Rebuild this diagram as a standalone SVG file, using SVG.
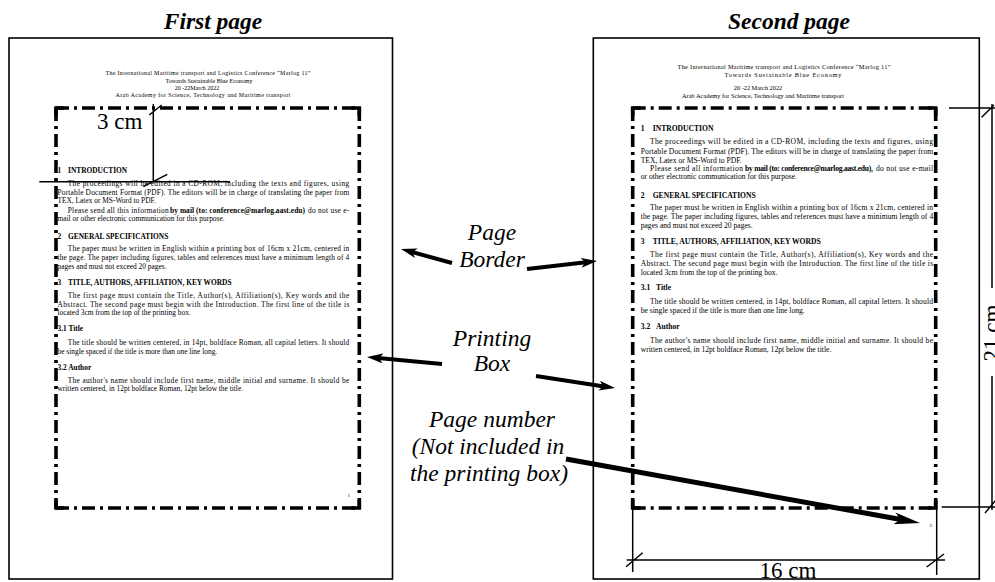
<svg xmlns="http://www.w3.org/2000/svg" width="995" height="582" viewBox="0 0 995 582">
<style>
text{font-family:"Liberation Serif","Times New Roman",serif;fill:#000}
.ttl{font-size:23.5px;font-weight:bold;font-style:italic;text-anchor:middle}
.hd{font-size:6px;text-anchor:middle}
.hd2{font-size:6.3px;text-anchor:middle}
.t1{font-size:7.4px}
.t2{font-size:7.6px}
.bd{font-weight:bold}
.lab{font-size:23.5px;font-style:italic;text-anchor:middle}
.dim{font-size:23px}
.pg{fill:none;stroke:#000;stroke-width:1.6}
.pb{fill:none;stroke:#000;stroke-width:3.6;stroke-dasharray:13 5 3 5}
.cor{fill:none;stroke:#000;stroke-width:3.6}
.dl{stroke:#000;stroke-width:1.5;fill:none}
.ar{stroke:#000;stroke-width:4;fill:none;marker-end:url(#ah)}
.ar2{stroke:#000;stroke-width:5;fill:none;marker-end:url(#ah2)}
.pn{font-size:5px}
</style>
<defs>
<marker id="ah" viewBox="0 0 16 10" refX="5" refY="5" markerWidth="16" markerHeight="10" markerUnits="userSpaceOnUse" orient="auto"><path d="M0,0 L16,5 L0,10 L4,5 z" fill="#000"/></marker>
<marker id="ah2" viewBox="0 0 26 12" refX="8" refY="6" markerWidth="26" markerHeight="12" markerUnits="userSpaceOnUse" orient="auto"><path d="M0,0 L26,6 L0,12 L6,6 z" fill="#000"/></marker>
</defs>

<text class="ttl" x="213" y="29">First page</text>
<text class="ttl" x="789" y="29">Second page</text>

<g id="page1">
<rect class="pg" x="9" y="38" width="383.5" height="541"/>
<text class="hd" x="208" y="75" textLength="205" lengthAdjust="spacing">The International Maritime transport and Logistics Conference “Marlog 11”</text>
<text class="hd" x="209" y="82.5">Towards Sustainable Blue Economy</text>
<text class="hd" x="197" y="89.5">20 -22March 2022</text>
<text class="hd" x="203" y="96.5" textLength="175" lengthAdjust="spacing">Arab Academy for Science, Technology and Maritime transport</text>
</g>

<g id="printbox1">
<path class="pb" d="M56,108 H359.3 M359.3,108 V508 M56,508 H359.3 M56,108 V508"/>
<path class="cor" d="M56,116 V108 H64 M351.3,108 H359.3 V116 M56,500 V508 H64 M351.3,508 H359.3 V500"/>
</g>

<g id="text1">
<text class="t1 bd" x="57.5" y="172.5">1</text><text class="t1 bd" x="68" y="172.5">INTRODUCTION</text>
<text class="t1" x="67.7" y="186" textLength="281.6" lengthAdjust="spacing">The proceedings will be edited in a CD-ROM, including the texts and figures, using</text>
<text class="t1" x="57.5" y="194.5" textLength="291.8" lengthAdjust="spacing">Portable Document Format (PDF). The editors will be in charge of translating the paper from</text>
<text class="t1" x="57.5" y="203">TEX, Latex or MS-Word to PDF.</text>
<text class="t1" x="67.7" y="212.5" textLength="101" lengthAdjust="spacing">Please send all this information</text>
<text class="t1 bd" x="170" y="212.5" textLength="135" lengthAdjust="spacing">by mail (to: conference@marlog.aast.edu)</text>
<text class="t1" x="308" y="212.5" textLength="41.3" lengthAdjust="spacing">do not use e-</text>
<text class="t1" x="57.5" y="221">mail or other electronic communication for this purpose.</text>
<text class="t1 bd" x="57.5" y="238.5">2</text><text class="t1 bd" x="68" y="238.5">GENERAL SPECIFICATIONS</text>
<text class="t1" x="67.7" y="251" textLength="281.6" lengthAdjust="spacing">The paper must be written in English within a printing box of 16cm x 21cm, centered in</text>
<text class="t1" x="57.5" y="260" textLength="291.8" lengthAdjust="spacing">the page. The paper including figures, tables and references must have a minimum length of 4</text>
<text class="t1" x="57.5" y="269">pages and must not exceed 20 pages.</text>
<text class="t1 bd" x="57.5" y="285">3</text><text class="t1 bd" x="68" y="285">TITLE, AUTHORS, AFFILIATION, KEY WORDS</text>
<text class="t1" x="67.7" y="297.5" textLength="281.6" lengthAdjust="spacing">The first page must contain the Title, Author(s), Affiliation(s), Key words and the</text>
<text class="t1" x="57.5" y="306.5" textLength="291.8" lengthAdjust="spacing">Abstract. The second page must begin with the Introduction. The first line of the title is</text>
<text class="t1" x="57.5" y="315">located 3cm from the top of the printing box.</text>
<text class="t1 bd" x="57.5" y="331">3.1 Title</text>
<text class="t1" x="67.7" y="345" textLength="281.6" lengthAdjust="spacing">The title should be written centered, in 14pt, boldface Roman, all capital letters. It should</text>
<text class="t1" x="57.5" y="353.5">be single spaced if the title is more than one line long.</text>
<text class="t1 bd" x="57.5" y="370">3.2 Author</text>
<text class="t1" x="67.7" y="382.5" textLength="281.6" lengthAdjust="spacing">The author's name should include first name, middle initial and surname. It should be</text>
<text class="t1" x="57.5" y="391">written centered, in 12pt boldface Roman, 12pt below the title.</text>
<text class="pn" x="347.5" y="497">1</text>
</g>

<g id="page2">
<rect class="pg" x="593.3" y="38" width="386" height="541"/>
<text class="hd2" x="784" y="68.5" textLength="213" lengthAdjust="spacing">The International Maritime transport and Logistics Conference “Marlog 11”</text>
<text class="hd2" x="783" y="76.5" textLength="117" lengthAdjust="spacing">Towards Sustainable Blue Economy</text>
<text class="hd2" x="758" y="90">20 -22 March 2022</text>
<text class="hd2" x="763" y="98" textLength="162" lengthAdjust="spacing">Arab Academy for Science, Technology and Maritime transport</text>
</g>

<g id="printbox2">
<path class="pb" d="M632.7,108 H935.7 M935.7,108 V508 M632.7,508 H935.7 M632.7,108 V508"/>
<path class="cor" d="M632.7,116 V108 H640.7 M927.7,108 H935.7 V116 M632.7,500 V508 H640.7 M927.7,508 H935.7 V500"/>
</g>

<g id="text2">
<text class="t2 bd" x="640.7" y="131">1</text><text class="t2 bd" x="652.7" y="131">INTRODUCTION</text>
<text class="t2" x="650" y="144" textLength="283" lengthAdjust="spacing">The proceedings will be edited in a CD-ROM, including the texts and figures, using</text>
<text class="t2" x="640.7" y="153.5" textLength="292.5" lengthAdjust="spacing">Portable Document Format (PDF). The editors will be in charge of translating the paper from</text>
<text class="t2" x="640.7" y="162.5">TEX, Latex or MS-Word to PDF.</text>
<text class="t2" x="650" y="171" textLength="93" lengthAdjust="spacing">Please send all information</text>
<text class="t2 bd" x="745" y="171" textLength="128" lengthAdjust="spacing">by mail (to: conference@marlog.aast.edu),</text>
<text class="t2" x="876" y="171" textLength="57" lengthAdjust="spacing">do not use e-mail</text>
<text class="t2" x="640.7" y="179">or other electronic communication for this purpose.</text>
<text class="t2 bd" x="640.7" y="197.5">2</text><text class="t2 bd" x="652.7" y="197.5">GENERAL SPECIFICATIONS</text>
<text class="t2" x="650" y="210" textLength="283" lengthAdjust="spacing">The paper must be written in English within a printing box of 16cm x 21cm, centered in</text>
<text class="t2" x="640.7" y="219" textLength="292.5" lengthAdjust="spacing">the page. The paper including figures, tables and references must have a minimum length of 4</text>
<text class="t2" x="640.7" y="228">pages and must not exceed 20 pages.</text>
<text class="t2 bd" x="640.7" y="244">3</text><text class="t2 bd" x="652.7" y="244">TITLE, AUTHORS, AFFILIATION, KEY WORDS</text>
<text class="t2" x="650" y="257" textLength="283" lengthAdjust="spacing">The first page must contain the Title, Author(s), Affiliation(s), Key words and the</text>
<text class="t2" x="640.7" y="266" textLength="292.5" lengthAdjust="spacing">Abstract. The second page must begin with the Introduction. The first line of the title is</text>
<text class="t2" x="640.7" y="274.5">located 3cm from the top of the printing box.</text>
<text class="t2 bd" x="640.7" y="290">3.1</text><text class="t2 bd" x="656" y="290">Title</text>
<text class="t2" x="650" y="304" textLength="283" lengthAdjust="spacing">The title should be written centered, in 14pt, boldface Roman, all capital letters. It should</text>
<text class="t2" x="640.7" y="312.5">be single spaced if the title is more than one line long.</text>
<text class="t2 bd" x="640.7" y="329">3.2</text><text class="t2 bd" x="656" y="329">Author</text>
<text class="t2" x="650" y="342.5" textLength="283" lengthAdjust="spacing">The author's name should include first name, middle initial and surname. It should be</text>
<text class="t2" x="640.7" y="351.5">written centered, in 12pt boldface Roman, 12pt below the title.</text>
<text class="pn" x="929.5" y="527">2</text>
</g>

<g id="labels">
<text class="lab" x="492" y="240">Page</text>
<text class="lab" x="492" y="267">Border</text>
<text class="lab" x="492" y="346">Printing</text>
<text class="lab" x="492" y="371">Box</text>
<text class="lab" x="492" y="427">Page number</text>
<text class="lab" x="488" y="454">(Not included in</text>
<text class="lab" x="489" y="481">the printing box)</text>
</g>

<g id="connectors">
<path class="ar" d="M452,263 L411.6,251.9"/>
<path class="ar" d="M527,269 L586.1,262.2"/>
<path class="ar" d="M442,364 L378,358"/>
<path class="ar" d="M536,376 L604.1,386.4"/>
<path class="ar2" d="M566,459 L902.3,519.8"/>
</g>

<g id="dim3cm">
<path class="dl" d="M153.3,104 V181.7 M39.3,181.7 H230 M149.3,115 L161.7,105 M143.3,186.7 L167.3,174.3"/>
<text class="dim" x="97" y="128.5">3 cm</text>
</g>

<g id="dim16cm">
<path class="dl" d="M632.7,508 V572 M936.7,508 V575 M626.7,560 H945 M626,566.7 L642.7,552.7 M926.7,567 L944,554"/>
<text class="dim" x="788" y="578" text-anchor="middle">16 cm</text>
</g>

<g id="dim21cm">
<path class="dl" d="M949,108 H995 M941.7,507 H995 M992,104 V288 M992,376 V510 M981.7,117.3 L994,105 M985,513 L996,500"/>
<text class="dim" x="0" y="0" text-anchor="middle" transform="translate(999,333) rotate(-90)">21 cm</text>
</g>
</svg>
